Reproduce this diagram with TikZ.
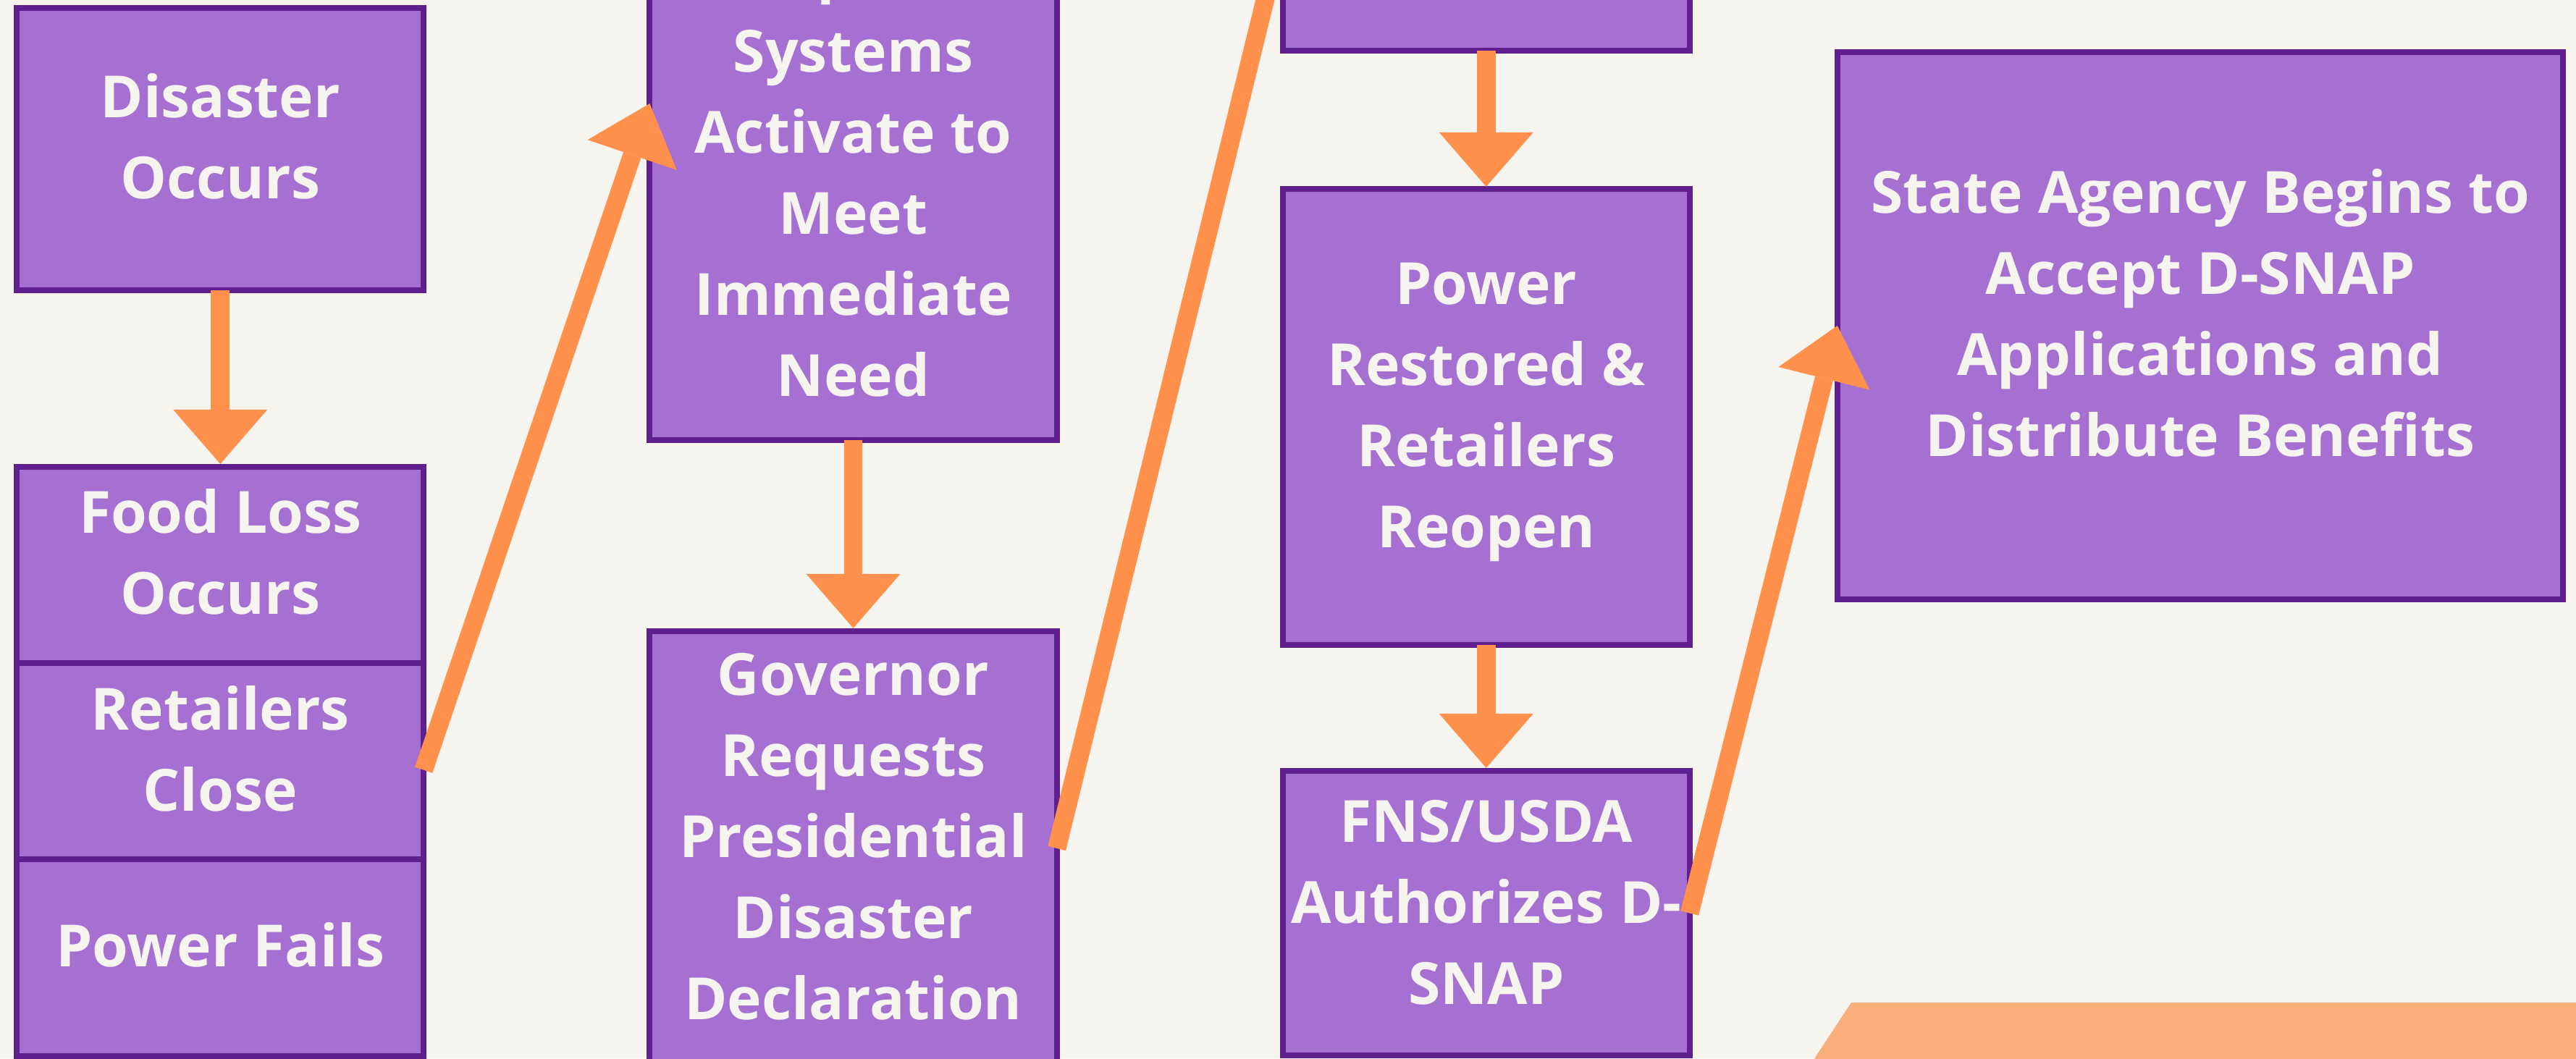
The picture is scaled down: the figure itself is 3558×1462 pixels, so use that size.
\documentclass[tikz,border=0pt]{standalone}
\usepackage{fontspec}
\setmainfont{Open Sans}
\usetikzlibrary{arrows.meta}
\definecolor{bgc}{HTML}{F5F4EF}
\definecolor{boxfill}{HTML}{A66FD2}
\definecolor{boxborder}{HTML}{5F1F8E}
\definecolor{arrowc}{HTML}{FF914D}
\definecolor{shapec}{HTML}{FAAE7C}
\definecolor{txtc}{HTML}{F5F4EE}
\tikzset{
  stepbox/.style={rectangle, draw=boxborder, fill=boxfill, line width=0.08cm, inner sep=0pt, outer sep=0pt},
  txt/.style={text=txtc, font=\bfseries\fontsize{22.85pt}{31.87pt}\selectfont, align=center, inner sep=0pt, outer sep=0pt, anchor=north},
  flow/.style={draw=arrowc, line width=0.255cm, line cap=butt, -{Triangle[length=0.75cm, width=1.3cm, line width=0pt]}}
}
\newcommand{\topstrut}{\rule{0pt}{0.8em}}
\begin{document}
\begin{tikzpicture}[x=0.01cm, y=-0.01cm]
\useasboundingbox (0,0) rectangle (3558,1462);
\clip (0,0) rectangle (3558,1462);
\fill[bgc] (0,0) rectangle (3558,1462);
% light orange shape bottom right
\fill[shapec] (2557,1385) -- (3600,1385) -- (3600,1470) -- (2501,1470) -- cycle;

% column 1
\node[stepbox, minimum width=5.615cm, minimum height=3.90cm] (A) at (304.25,206) {};
\node[stepbox, minimum width=5.615cm, minimum height=2.71cm] (FL) at (304.25,780.5) {};
\node[stepbox, minimum width=5.615cm, minimum height=2.715cm] (RC) at (304.25,1051.75) {};
\node[stepbox, minimum width=5.615cm, minimum height=2.71cm] (PF) at (304.25,1323) {};
% column 2
\node[stepbox, minimum width=5.62cm, minimum height=9.29cm] (C) at (1178.5,143) {};
\node[stepbox, minimum width=5.62cm, minimum height=6.00cm] (D) at (1178.5,1172) {};
% column 3
\node[stepbox, minimum width=5.615cm, minimum height=3.39cm] (E) at (2052.75,-100) {};
\node[stepbox, minimum width=5.615cm, minimum height=6.30cm] (F) at (2052.75,576) {};
\node[stepbox, minimum width=5.615cm, minimum height=3.93cm] (G) at (2052.75,1261.5) {};
% column 4
\node[stepbox, minimum width=10.02cm, minimum height=7.563cm] (H) at (3039,450) {};

% texts
\node[txt] (At) at (304.25,98.3) {\topstrut Disaster\\Occurs};
\node[txt] (FLt) at (304.25,671.8) {\topstrut Food Loss\\Occurs};
\node[txt] (RCt) at (304.25,943.8) {\topstrut Retailers\\Close};
\node[txt] (PFt) at (304.25,1271.3) {\topstrut Power Fails};
\node[txt] (Ct) at (1178.5,-76.7) {\topstrut Response\\Systems\\Activate to\\Meet\\Immediate\\Need};
\node[txt] (Dt) at (1178.5,895.8) {\topstrut Governor\\Requests\\Presidential\\Disaster\\Declaration};
\node[txt] (Ft) at (2052.75,355.8) {\topstrut Power\\Restored \&\\Retailers\\Reopen};
\node[txt] (Gt) at (2052.75,1098.8) {\topstrut FNS/USDA\\Authorizes D-\\SNAP};
\node[txt] (Ht) at (3039,230.2) {\topstrut State Agency Begins to\\Accept D-SNAP\\Applications and\\Distribute Benefits};

% connectors
\draw[flow] (A.south) -- ([yshift=0.04cm]FL.north);
\draw[flow] ([yshift=-0.12cm]RC.east) -- (C.west);
\draw[flow] (C.south) -- ([yshift=0.04cm]D.north);
\draw[flow] (D.east) -- (E.west);
\draw[flow] (E.south) -- ([yshift=0.03cm]F.north);
\draw[flow] (F.south) -- ([yshift=0.04cm]G.north);
\draw[flow] (G.east) -- (H.west);
\end{tikzpicture}
\end{document}
